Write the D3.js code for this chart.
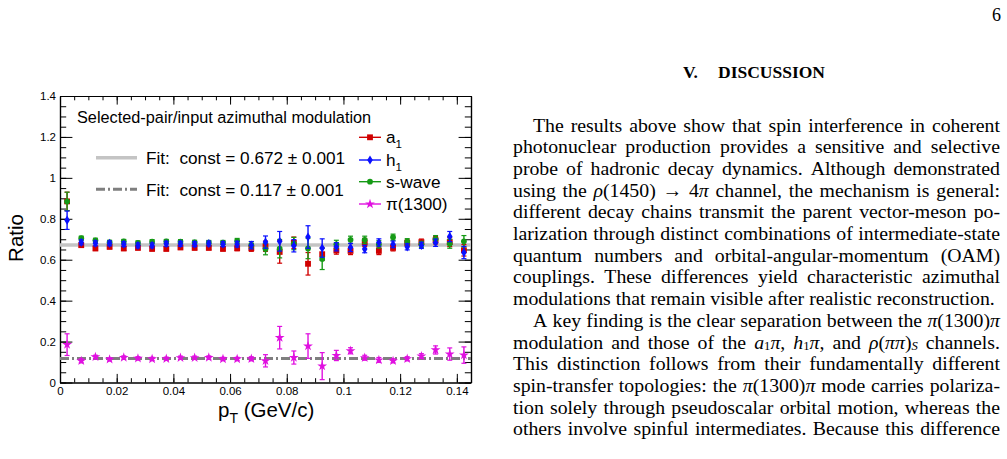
<!DOCTYPE html>
<html>
<head>
<meta charset="utf-8">
<title>Selected-pair/input azimuthal modulation</title>
<script src="https://d3js.org/d3.v7.min.js"></script>
<style>
  body { margin: 0; background: #fff; }
  svg text { font-family: "Liberation Sans", Arial, sans-serif; fill: #000; }
  .paper text { font-family: "Liberation Serif", "Times New Roman", serif; }
</style>
</head>
<body>
<svg id="fig" width="1007" height="459"></svg>
<script>

// pT bin centres (GeV/c)
var ptBins = [0.0025, 0.0075, 0.0125, 0.0175, 0.0225, 0.0275, 0.0325, 0.0375, 0.0425, 0.0475,
              0.0525, 0.0575, 0.0625, 0.0675, 0.0725, 0.0775, 0.0825, 0.0875, 0.0925, 0.0975,
              0.1025, 0.1075, 0.1125, 0.1175, 0.1225, 0.1275, 0.1325, 0.1375, 0.1425];

// ratios, with their errors
var a1 = [0.885, 0.671, 0.655, 0.663, 0.655, 0.658, 0.653, 0.653, 0.660, 0.658,
          0.658, 0.653, 0.656, 0.656, 0.666, 0.638, 0.683, 0.580, 0.627, 0.645,
          0.643, 0.684, 0.643, 0.658, 0.682, 0.686, 0.695, 0.686, 0.646];
var a1Err = [0.045, 0.010, 0.010, 0.010, 0.010, 0.010, 0.010, 0.010, 0.010, 0.010,
             0.010, 0.010, 0.012, 0.015, 0.025, 0.055, 0.028, 0.055, 0.030, 0.018,
             0.018, 0.020, 0.018, 0.015, 0.015, 0.015, 0.018, 0.022, 0.028];

var h1 = [0.793, 0.685, 0.680, 0.680, 0.676, 0.670, 0.670, 0.678, 0.678, 0.676,
          0.679, 0.676, 0.676, 0.671, 0.686, 0.690, 0.668, 0.711, 0.657, 0.663,
          0.660, 0.652, 0.684, 0.675, 0.663, 0.670, 0.683, 0.713, 0.635];
var h1Err = [0.045, 0.012, 0.012, 0.012, 0.012, 0.012, 0.012, 0.012, 0.012, 0.012,
             0.012, 0.012, 0.014, 0.018, 0.030, 0.048, 0.030, 0.055, 0.045, 0.020,
             0.020, 0.018, 0.018, 0.016, 0.015, 0.015, 0.018, 0.025, 0.030];

var sWave = [0.885, 0.705, 0.695, 0.685, 0.689, 0.682, 0.688, 0.689, 0.688, 0.685,
             0.684, 0.684, 0.692, 0.672, 0.652, 0.654, 0.679, 0.655, 0.604, 0.675,
             0.697, 0.697, 0.675, 0.710, 0.688, 0.675, 0.700, 0.678, 0.690];
var sWaveErr = [0.045, 0.010, 0.010, 0.010, 0.010, 0.010, 0.010, 0.010, 0.010, 0.010,
                0.010, 0.010, 0.012, 0.016, 0.028, 0.045, 0.030, 0.050, 0.052, 0.020,
                0.018, 0.018, 0.018, 0.015, 0.015, 0.015, 0.018, 0.022, 0.028];

var pi1300 = [0.185, 0.106, 0.125, 0.113, 0.122, 0.118, 0.115, 0.116, 0.121, 0.121,
              0.122, 0.115, 0.115, 0.116, 0.106, 0.219, 0.122, 0.178, 0.080, 0.132,
              0.155, 0.121, 0.110, 0.106, 0.116, 0.129, 0.159, 0.139, 0.134];
var pi1300Err = [0.053, 0.010, 0.008, 0.008, 0.008, 0.008, 0.008, 0.008, 0.008, 0.008,
                 0.008, 0.008, 0.008, 0.010, 0.030, 0.055, 0.032, 0.060, 0.066, 0.025,
                 0.015, 0.012, 0.012, 0.010, 0.010, 0.012, 0.020, 0.030, 0.040];

var fitConst = [0.672, 0.117];
var fitLabels = ["Fit:  const = 0.672 \u00b1 0.001", "Fit:  const = 0.117 \u00b1 0.001"];

var xTicks = [0, 0.02, 0.04, 0.06, 0.08, 0.1, 0.12, 0.14];
var yTicks = [0, 0.2, 0.4, 0.6, 0.8, 1, 1.2, 1.4];

var svg = d3.select("#fig");

var x = d3.scaleLinear().domain([0, 0.145]).range([60, 471]);
var y = d3.scaleLinear().domain([0, 1.4]).range([382.5, 96]);

var plot = svg.append("g");

// frame axes, ROOT style: ticks point inward
function axisPair(axisFn, scale, major, minor, len, transform, labels) {
  var gMin = plot.append("g").attr("transform", transform)
    .call(axisFn(scale).tickValues(minor).tickSizeInner(-len / 2).tickSizeOuter(0).tickFormat(""));
  var gMaj = plot.append("g").attr("transform", transform)
    .call(axisFn(scale).tickValues(major).tickSizeInner(-len).tickSizeOuter(0)
      .tickPadding(4).tickFormat(labels ? d3.format("~g") : ""));
  [gMin, gMaj].forEach(function(g) {
    g.selectAll("line").attr("stroke", "#000").attr("stroke-width", 1);
    g.select(".domain").attr("stroke", "#000").attr("stroke-width", 1.2);
  });
  gMaj.selectAll("text").attr("font-size", 11.5).attr("fill", "#111")
    .style("font-family", '"Liberation Sans", Arial, sans-serif');
  return gMaj;
}

var xMinor = x.ticks(29), yMinor = y.ticks(28);
axisPair(d3.axisBottom, x, xTicks, xMinor, 8.6, "translate(0," + y(0) + ")", true);
axisPair(d3.axisTop, x, xTicks, xMinor, 8.6, "translate(0," + y(1.4) + ")", false);
axisPair(d3.axisLeft, y, yTicks, yMinor, 12.4, "translate(" + x(0) + ",0)", true);
axisPair(d3.axisRight, y, yTicks, yMinor, 12.4, "translate(" + x(0.145) + ",0)", false);

// axis titles
svg.append("text")
  .attr("transform", "translate(23,238) rotate(-90)")
  .attr("text-anchor", "middle")
  .attr("font-size", 20.5)
  .text("Ratio");

var xt = svg.append("text").attr("x", 218).attr("y", 417).attr("font-size", 20.5);
xt.append("tspan").text("p");
xt.append("tspan").attr("font-size", 14).attr("dy", 6).text("T");
xt.append("tspan").attr("dy", -6).text(" (GeV/c)");

// fit lines
var fitStyle = [
  { color: "#c4c4c4", width: 3.5, dash: null },
  { color: "#7f7f7f", width: 3, dash: "9,3,2,3" }
];
fitConst.forEach(function(c, i) {
  plot.append("line")
    .attr("x1", x(0)).attr("x2", x(0.145))
    .attr("y1", y(c)).attr("y2", y(c))
    .attr("stroke", fitStyle[i].color)
    .attr("stroke-width", fitStyle[i].width)
    .attr("stroke-dasharray", fitStyle[i].dash);
});

// data series
var series = [
  { name: "a1", vals: a1, errs: a1Err, color: "#d00000", sym: d3.symbolSquare, size: 34, label: ["a", "1"] },
  { name: "sw", vals: sWave, errs: sWaveErr, color: "#159a15", sym: d3.symbolCircle, size: 26, label: ["s-wave"] },
  { name: "h1", vals: h1, errs: h1Err, color: "#0a10ff", sym: "diamond", size: 0, label: ["h", "1"] },
  { name: "pi", vals: pi1300, errs: pi1300Err, color: "#e010e0", sym: d3.symbolStar, size: 30, label: ["\u03c0(1300)"] }
];

function markerPath(s) {
  if (s.sym === "diamond") return "M0,-4.6L2.8,0L0,4.6L-2.8,0Z";
  return d3.symbol().type(s.sym).size(s.size)();
}

series.forEach(function(s) {
  var g = plot.append("g").attr("class", "series-" + s.name);
  var pts = ptBins.map(function(p, i) { return { x: p, v: s.vals[i], e: s.errs[i] }; });
  g.selectAll("line.err").data(pts).enter().append("line")
    .attr("class", "err")
    .attr("x1", function(d) { return x(d.x); }).attr("x2", function(d) { return x(d.x); })
    .attr("y1", function(d) { return y(d.v - d.e); }).attr("y2", function(d) { return y(d.v + d.e); })
    .attr("stroke", s.color).attr("stroke-width", 1.4);
  [-1, 1].forEach(function(sg) {
    g.selectAll("line.cap" + sg).data(pts).enter().append("line")
      .attr("x1", function(d) { return x(d.x) - 2.5; }).attr("x2", function(d) { return x(d.x) + 2.5; })
      .attr("y1", function(d) { return y(d.v + sg * d.e); }).attr("y2", function(d) { return y(d.v + sg * d.e); })
      .attr("stroke", s.color).attr("stroke-width", 1.2);
  });
  g.selectAll("path").data(pts).enter().append("path")
    .attr("d", markerPath(s))
    .attr("transform", function(d) { return "translate(" + x(d.x) + "," + y(d.v) + ")"; })
    .attr("fill", s.color);
});

// legend: title and fits
svg.append("text").attr("x", 77).attr("y", 123).attr("font-size", 16.3)
  .text("Selected-pair/input azimuthal modulation");

[157.7, 189.3].forEach(function(ly, i) {
  svg.append("line").attr("x1", 96).attr("x2", 137).attr("y1", ly).attr("y2", ly)
    .attr("stroke", fitStyle[i].color).attr("stroke-width", fitStyle[i].width)
    .attr("stroke-dasharray", fitStyle[i].dash);
  svg.append("text").attr("x", 146).attr("y", ly + 6.5).attr("font-size", 17.2)
    .attr("xml:space", "preserve").text(fitLabels[i]);
});

// legend: series, in a1, h1, s-wave, pi order
var legendOrder = ["a1", "h1", "sw", "pi"];
var legendY = [137.3, 160, 181.7, 204];
legendOrder.forEach(function(n, i) {
  var s = series.filter(function(d) { return d.name === n; })[0];
  var ly = legendY[i];
  svg.append("line").attr("x1", 359).attr("x2", 381).attr("y1", ly).attr("y2", ly)
    .attr("stroke", s.color).attr("stroke-width", 1.4);
  svg.append("path").attr("d", markerPath(s))
    .attr("transform", "translate(370," + ly + ")").attr("fill", s.color);
  var t = svg.append("text").attr("x", 386).attr("y", ly + 6).attr("font-size", 17.2);
  t.append("tspan").text(s.label[0]);
  if (s.label[1]) t.append("tspan").attr("font-size", 11.5).attr("dy", 5).text(s.label[1]);
});

// ---------- right-hand column of the page ----------
var paper = svg.append("g").attr("class", "paper");

paper.append("text").attr("x", 1001).attr("y", 21).attr("text-anchor", "end")
  .attr("font-size", 18).text("6");
paper.append("text").attr("x", 683).attr("y", 78).attr("font-size", 17.5)
  .attr("font-weight", "bold").text("V.");
paper.append("text").attr("x", 718).attr("y", 78).attr("font-size", 17.5)
  .attr("font-weight", "bold").text("DISCUSSION");

// *..* italic, ~..~ subscript, _.._ italic subscript
var textLines = [
  { t: "The results above show that spin interference in coherent", indent: true },
  { t: "photonuclear production provides a sensitive and selective" },
  { t: "probe of hadronic decay dynamics. Although demonstrated" },
  { t: "using the *ρ*(1450) → 4*π* channel, the mechanism is general:" },
  { t: "different decay chains transmit the parent vector-meson po-" },
  { t: "larization through distinct combinations of intermediate-state" },
  { t: "quantum numbers and orbital-angular-momentum (OAM)" },
  { t: "couplings. These differences yield characteristic azimuthal" },
  { t: "modulations that remain visible after realistic reconstruction.", last: true },
  { t: "A key finding is the clear separation between the *π*(1300)*π*", indent: true },
  { t: "modulation and those of the *a*~1~*π*, *h*~1~*π*, and *ρ*(*ππ*)_S_ channels." },
  { t: "This distinction follows from their fundamentally different" },
  { t: "spin-transfer topologies: the *π*(1300)*π* mode carries polariza-" },
  { t: "tion solely through pseudoscalar orbital motion, whereas the" },
  { t: "others involve spinful intermediates. Because this difference" }
];

var colX = 513, colW = 487, indentW = 20, base0 = 131.5, lead = 21.7, bodySize = 19.8;
var subDrop = 1.5, subScale = 0.64;

function addRuns(t, word) {
  var re = /\*([^*]+)\*|~([^~]+)~|_([^_]+)_|([^*~_]+)/g, m, shift = 0;
  while ((m = re.exec(word)) !== null) {
    var sp = t.append("tspan");
    var want = (m[2] || m[3]) ? subDrop : 0;
    if (want !== shift) { sp.attr("dy", want - shift); shift = want; }
    if (m[1]) sp.attr("font-style", "italic").text(m[1]);
    else if (m[2]) sp.attr("font-size", bodySize * subScale).text(m[2]);
    else if (m[3]) sp.attr("font-size", bodySize * subScale).attr("font-style", "italic").text(m[3]);
    else sp.text(m[4]);
  }
}

textLines.forEach(function(ln, i) {
  var g = paper.append("g").attr("transform", "translate(0," + (base0 + i * lead) + ")")
    .attr("font-size", bodySize);
  var words = ln.t.split(" ");
  var nodes = words.map(function(w) { var t = g.append("text"); addRuns(t, w); return t; });
  var widths = nodes.map(function(n) { return n.node().getComputedTextLength(); });
  var start = colX + (ln.indent ? indentW : 0);
  var avail = colX + colW - start;
  var gap = ln.last ? bodySize * 0.25 : (avail - d3.sum(widths)) / (words.length - 1);
  var cx = start;
  nodes.forEach(function(n, k) {
    n.attr("x", cx);
    cx += widths[k] + gap;
  });
});

</script>
</body>
</html>
